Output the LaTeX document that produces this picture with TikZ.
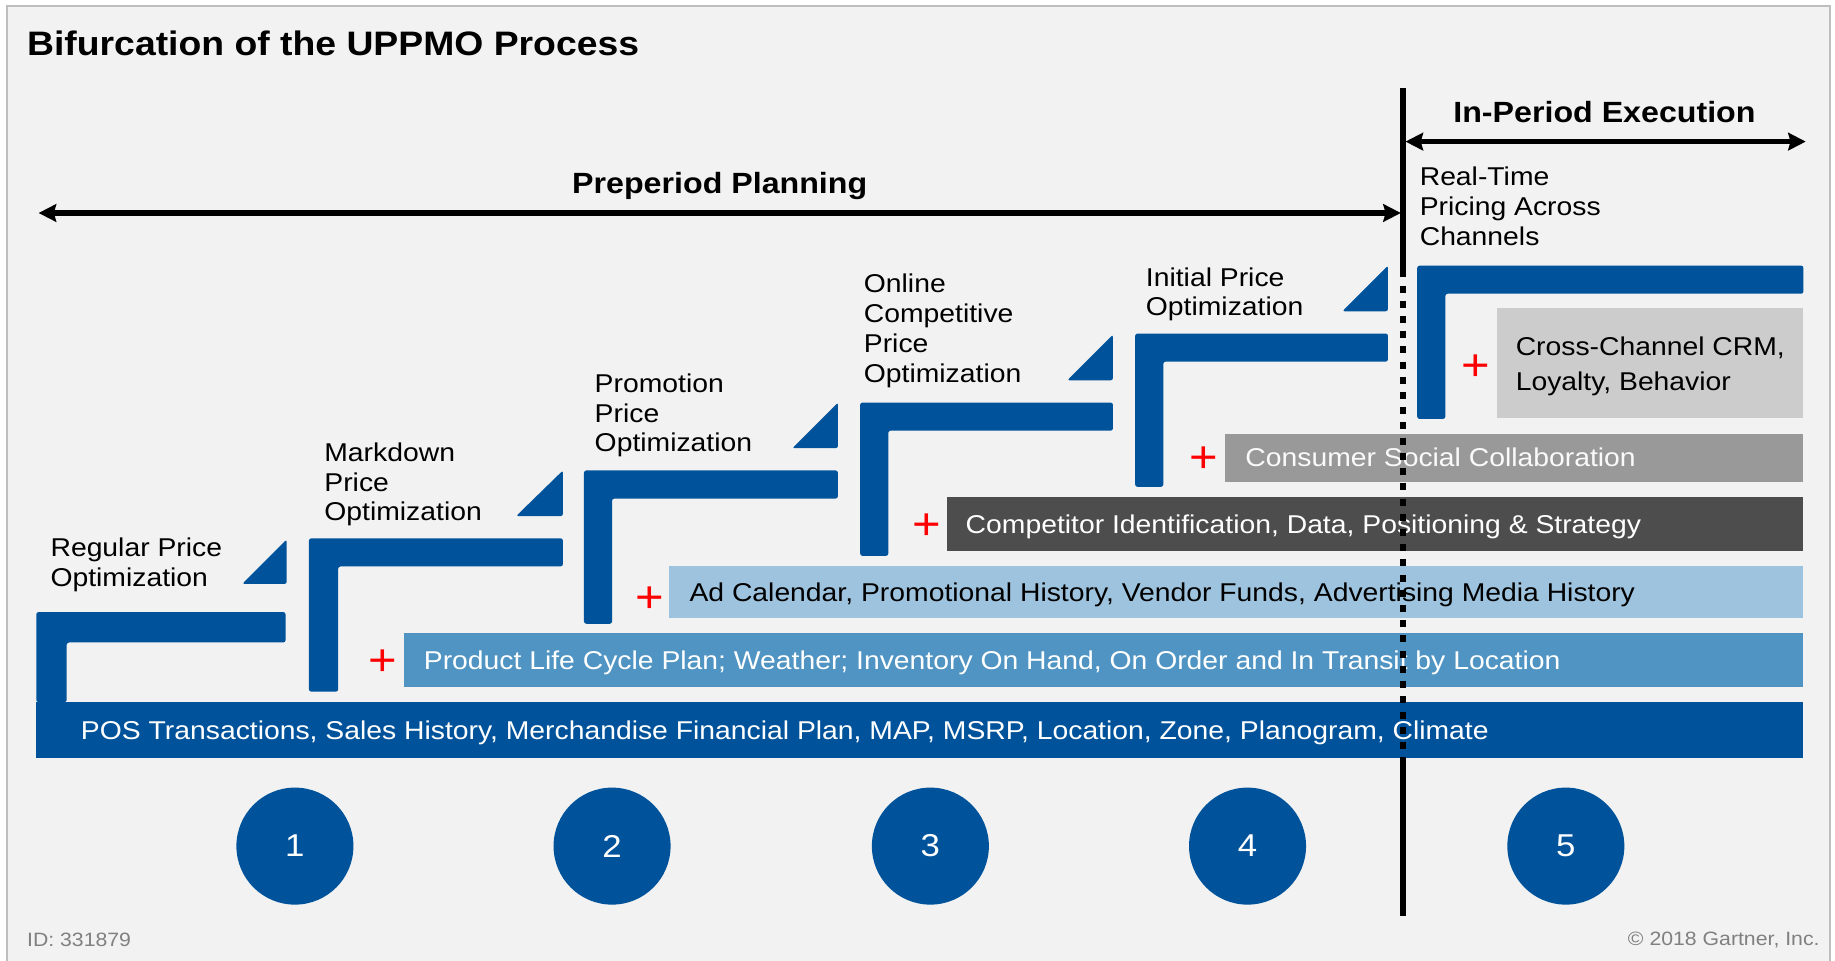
\documentclass[tikz,border=0pt]{standalone}
\usepackage{fontspec}
\setmainfont[FakeStretch=1.1]{Liberation Sans}
\usetikzlibrary{arrows.meta}
\definecolor{canvas}{RGB}{241,242,241}
\definecolor{rim}{RGB}{190,190,190}
\definecolor{gblue}{RGB}{0,83,155}
\definecolor{midblue}{RGB}{79,148,194}
\definecolor{paleblue}{RGB}{157,195,222}
\definecolor{darkgrey}{RGB}{77,77,77}
\definecolor{midgrey}{RGB}{153,153,153}
\definecolor{palegrey}{RGB}{204,204,204}
\definecolor{notegrey}{RGB}{128,128,128}
\definecolor{plusred}{RGB}{255,0,0}
\tikzset{
  steptext/.style={anchor=west, align=left, inner sep=0pt, font=\fontsize{22}{25.5}\selectfont},
  bartext/.style={anchor=base west, inner sep=0pt, font=\fontsize{22}{25.5}\selectfont},
  stepshape/.style={fill=gblue, rounded corners=2pt},
  wedge/.style={fill=gblue, rounded corners=2pt},
  plussign/.style={text=plusred, inner sep=0pt, font=\fontsize{38}{38}\selectfont},
  phasehead/.style={inner sep=0pt, font=\bfseries\fontsize{25}{28}\selectfont},
  spanarrow/.style={line width=4.5pt, {Stealth[length=15pt,width=15pt,inset=2pt]}-{Stealth[length=15pt,width=15pt,inset=2pt]}},
  divider/.style={line width=5.5pt},
  stagecircle/.style={circle, fill=gblue, minimum size=100pt, inner sep=0pt, text=white, font=\fontsize{27}{27}\selectfont},
  footnote/.style={inner sep=0pt, text=notegrey, font=\fontsize{16.5}{18}\selectfont}
}
\begin{document}
\begin{tikzpicture}[x=1pt,y=-1pt]
\useasboundingbox (0,0) rectangle (1568,821);
\fill[white] (0,0) rectangle (1568,821);
\draw[rim, line width=1.5pt, fill=canvas] (6,5) rectangle (1564,840);

% title
\node[anchor=base west, inner sep=0pt, font=\bfseries\fontsize{29}{34}\selectfont] (title) at (23,47) {Bifurcation of the UPPMO Process};

% data layers
\fill[gblue] (31,600) rectangle (1541,648);
\node[bartext, text=white] (pos) at (69,632) {POS Transactions, Sales History, Merchandise Financial Plan, MAP, MSRP, Location, Zone, Planogram, Climate};

\fill[midblue] (345,541) rectangle (1541,587);
\node[bartext, text=white] (plc) at (362,572) {Product Life Cycle Plan; Weather; Inventory On Hand, On Order and In Transit by Location};
\node[plussign] (p1) at (327,566) {+};

\fill[paleblue] (572,484) rectangle (1541,528);
\node[bartext, text=black] (adc) at (589,514) {Ad Calendar, Promotional History, Vendor Funds, Advertising Media History};
\node[plussign] (p2) at (555,512) {+};

\fill[darkgrey] (809,425) rectangle (1541,471);
\node[bartext, text=white] (cmp) at (825,456) {Competitor Identification, Data, Positioning \& Strategy};
\node[plussign] (p3) at (792,450) {+};

\fill[midgrey] (1047,371) rectangle (1541,412);
\node[bartext, text=white!95!midgrey] (csc) at (1064,399) {Consumer Social Collaboration};
\node[plussign] (p4) at (1029,393) {+};

\fill[palegrey] (1279,263) rectangle (1541,357);
\node[steptext, text=black] (crm) at (1295,313) {Cross-Channel CRM,\\[4.5pt]Loyalty, Behavior};
\node[plussign] (p5) at (1261,314) {+};

% steps
\fill[stepshape] (31,523) -- (244,523) -- (244,549) -- (57,549) -- (57,600) -- (31,600) -- cycle;
\fill[stepshape] (264,460) -- (481,460) -- (481,484) -- (289,484) -- (289,591) -- (264,591) -- cycle;
\fill[stepshape] (499,402) -- (716,402) -- (716,426) -- (523,426) -- (523,533) -- (499,533) -- cycle;
\fill[stepshape] (735,344) -- (951,344) -- (951,368) -- (759,368) -- (759,475) -- (735,475) -- cycle;
\fill[stepshape] (970,285) -- (1186,285) -- (1186,309) -- (994,309) -- (994,416) -- (970,416) -- cycle;
\fill[stepshape] (1211,227) -- (1541,227) -- (1541,251) -- (1235,251) -- (1235,358) -- (1211,358) -- cycle;

% wedges
\fill[wedge] (207,499) -- (245,499) -- (245,461) -- cycle;
\fill[wedge] (441,441) -- (481,441) -- (481,402) -- cycle;
\fill[wedge] (677,383) -- (716,383) -- (716,344) -- cycle;
\fill[wedge] (912,325) -- (951,325) -- (951,286) -- cycle;
\fill[wedge] (1147,266) -- (1186,266) -- (1186,227) -- cycle;

% step labels
\node[steptext] (s1) at (43,483) {Regular Price\\Optimization};
\node[steptext] (s2) at (277,414) {Markdown\\Price\\Optimization};
\node[steptext] (s3) at (508,355) {Promotion\\Price\\Optimization};
\node[steptext] (s4) at (738,282.5) {Online\\Competitive\\Price\\Optimization};
\node[steptext] (s5) at (979,251.5) {Initial Price\\Optimization};
\node[steptext] (s6) at (1213,176) {Real-Time\\Pricing Across\\Channels};

% phase spans
\node[phasehead] (pre) at (615,159) {Preperiod Planning};
\node[phasehead] (inp) at (1371,96) {In-Period Execution};
\coordinate (preL) at (33,182);
\coordinate (preR) at (1197,182);
\coordinate (inpL) at (1201,121);
\coordinate (inpR) at (1543,121);
\draw[spanarrow] (preL) -- (preR);
\draw[spanarrow] (inpL) -- (inpR);

% divider between planning and execution
\coordinate (vTop) at (1199,75);
\coordinate (vDotA) at (1199,231);
\coordinate (vDotB) at (1199,648);
\coordinate (vBot) at (1199,783);
\draw[divider] (vTop) -- (vDotA);
\draw[divider, dash pattern=on 6pt off 7pt] (vDotA) -- (vDotB);
\draw[divider] (vDotB) -- (vBot);

% stage numbers
\node[stagecircle] (n1) at (252,723) {1};
\node[stagecircle] (n2) at (523,723) {2};
\node[stagecircle] (n3) at (795,723) {3};
\node[stagecircle] (n4) at (1066,723) {4};
\node[stagecircle] (n5) at (1338,723) {5};

% footer
\node[footnote, anchor=west] (id) at (23,803) {ID: 331879};
\node[footnote, anchor=east] (copy) at (1555,803) {© 2018 Gartner, Inc.};
\end{tikzpicture}
\end{document}
